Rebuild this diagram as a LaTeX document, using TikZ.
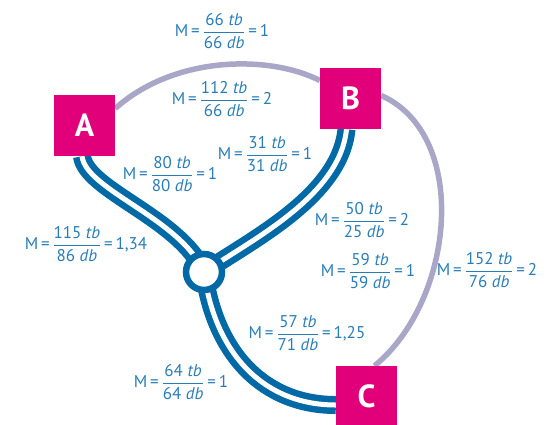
\documentclass[tikz,border=0pt]{standalone}
\usepackage{amsmath}
\usepackage{fontspec}
\setmainfont{PT Sans}
\setsansfont{PT Sans}
\definecolor{myblue}{RGB}{0, 105, 166}
\definecolor{mytext}{RGB}{40, 125, 185}
\definecolor{mymagenta}{RGB}{226, 0, 122}
\definecolor{mylilac}{RGB}{169, 166, 200}
\newcommand{\ratio}[3]{M\,=\,$\dfrac{\text{#1 \textit{tb}}}{\text{#2 \textit{db}}}$\,=\,#3}

\begin{document}
\begin{tikzpicture}[x=1pt,y=-1pt,
    box/.style={fill=mymagenta,minimum size=61pt,inner sep=0pt,text=white,
      font=\fontsize{32}{32}\selectfont\bfseries},
    road/.style={draw=myblue,line width=6.5pt,double=white,double distance=5pt},
    path/.style={draw=mylilac,line width=5.5pt},
    lbl/.style={text=mytext,inner sep=0pt,font=\fontsize{17}{19}\selectfont}]
  \useasboundingbox (0,0) rectangle (551,424);

%nodes:
  \node[box] (A) at (84.5,125.5) {A};
  \node[box] (B) at (350.5,98.5) {B};
  \node[box] (C) at (366.5,396.5) {C};
  \node[circle,minimum size=36pt,inner sep=0pt] (H) at (204,272) {};

%lilac paths:
  \draw[path] ([yshift=17pt]A.east) .. controls (175,55) and (270,55) .. ([yshift=18pt]B.west);
  \draw[path] ([yshift=3pt]B.east) .. controls (470,135) and (455,300) .. ([xshift=8pt]C.north);

%roads:
  \draw[road] ([xshift=-2.5pt]A.south) .. controls (86,190) and (180,218) .. (H.center);
  \draw[road] (H.center) .. controls (255,238) and (340,195) .. ([xshift=-4pt]B.south);
  \draw[road] (H.center) .. controls (215,355) and (265,405) .. ([yshift=-8.5pt]C.west);
  \draw[myblue,line width=6.5pt,fill=white] (H.center) circle (18pt);

%boxes on top:
  \node[box] at (A) {A};
  \node[box] at (B) {B};
  \node[box] at (C) {C};

%ratios:
  \node[lbl] (r1) at (222,31) {\ratio{66}{66}{1}};
  \node[lbl] (r2) at (222,99) {\ratio{112}{66}{2}};
  \node[lbl] (r3) at (170,174) {\ratio{80}{80}{1}};
  \node[lbl] (r4) at (265,154) {\ratio{31}{31}{1}};
  \node[lbl] (r5) at (86,244) {\ratio{115}{86}{1,34}};
  \node[lbl] (r6) at (362,220) {\ratio{50}{25}{2}};
  \node[lbl] (r7) at (368,271) {\ratio{59}{59}{1}};
  \node[lbl] (r8) at (487,270) {\ratio{152}{76}{2}};
  \node[lbl] (r9) at (307,333) {\ratio{57}{71}{1,25}};
  \node[lbl] (r10) at (181,382) {\ratio{64}{64}{1}};
\end{tikzpicture}
\end{document}
